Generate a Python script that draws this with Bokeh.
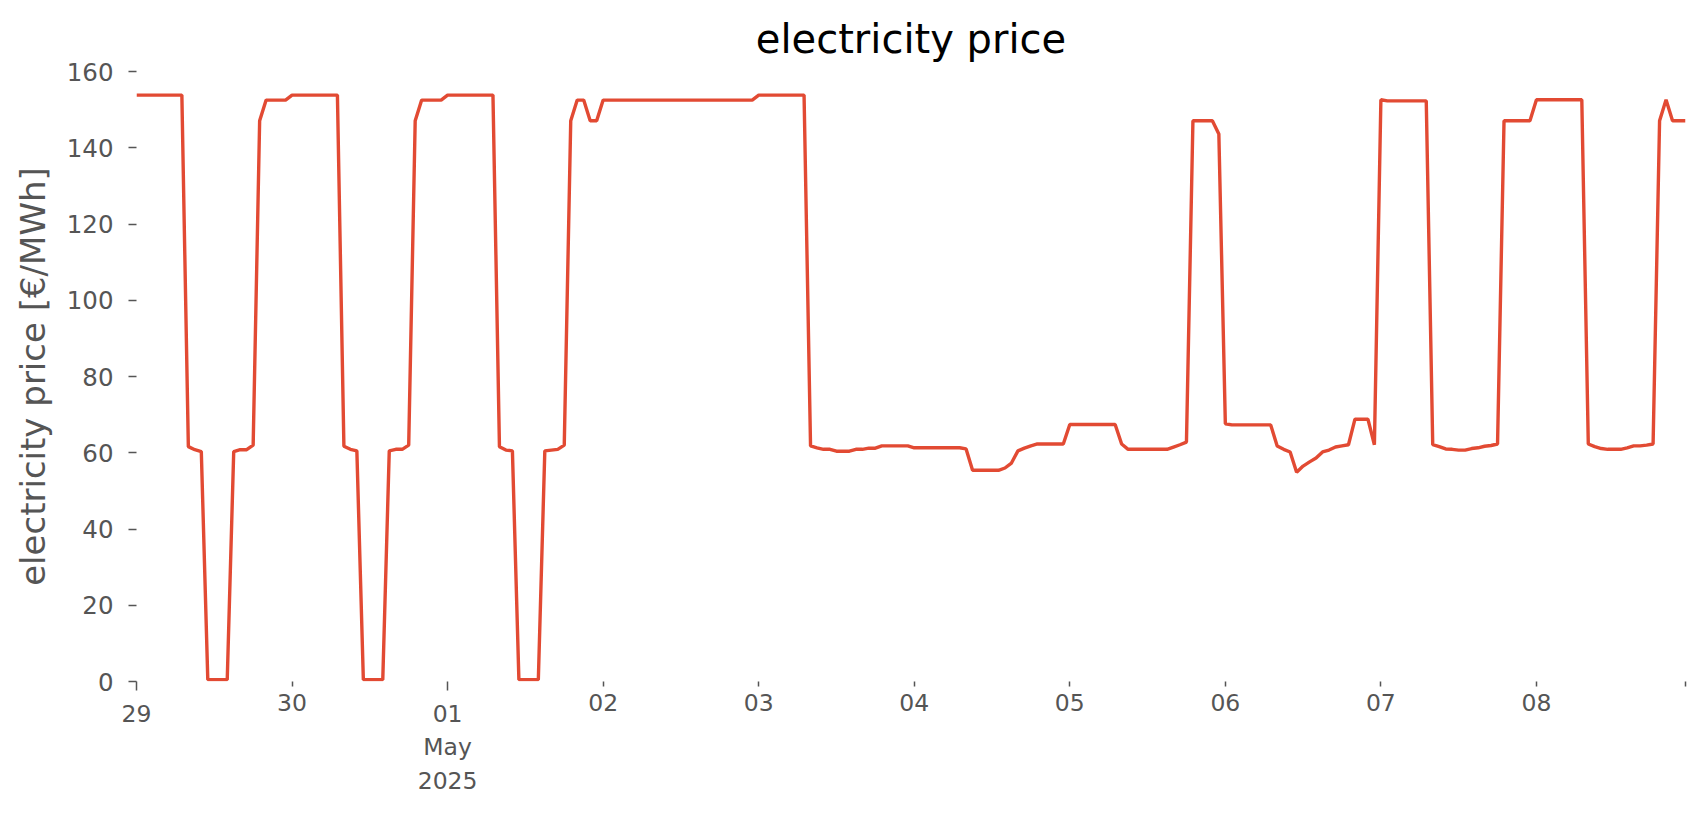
import pandas as pd
from bokeh.plotting import figure
from bokeh.models import Range1d, LinearAxis, FixedTicker
from bokeh.embed import file_html
from bokeh.resources import INLINE

# hourly electricity price [EUR/MWh], one list per day (00:00 ... 23:00)
apr29 = [153.8, 153.8, 153.8, 153.8, 153.8, 153.8, 153.8, 153.8,
         61.6, 60.8, 60.3, 0.5, 0.5, 0.5, 0.5, 60.3,
         60.8, 60.8, 62.0, 147.1, 152.5, 152.5, 152.5, 152.5]
apr30 = [153.8, 153.8, 153.8, 153.8, 153.8, 153.8, 153.8, 153.8,
         61.7, 60.9, 60.5, 0.5, 0.5, 0.5, 0.5, 60.5,
         60.9, 60.9, 62.0, 147.1, 152.5, 152.5, 152.5, 152.5]
may01 = [153.8, 153.8, 153.8, 153.8, 153.8, 153.8, 153.8, 153.8,
         61.6, 60.7, 60.5, 0.5, 0.5, 0.5, 0.5, 60.5,
         60.7, 60.9, 62.0, 147.1, 152.5, 152.5, 147.1, 147.1]
may02 = [152.5, 152.5, 152.5, 152.5, 152.5, 152.5, 152.5, 152.5,
         152.5, 152.5, 152.5, 152.5, 152.5, 152.5, 152.5, 152.5,
         152.5, 152.5, 152.5, 152.5, 152.5, 152.5, 152.5, 152.5]
may03 = [153.8, 153.8, 153.8, 153.8, 153.8, 153.8, 153.8, 153.8,
         61.8, 61.3, 60.9, 60.9, 60.4, 60.4, 60.4, 60.9,
         60.9, 61.2, 61.2, 61.8, 61.8, 61.8, 61.8, 61.8]
may04 = [61.3, 61.3, 61.3, 61.3, 61.3, 61.3, 61.3, 61.3,
         61.0, 55.4, 55.4, 55.4, 55.4, 55.4, 56.0, 57.3,
         60.5, 61.2, 61.8, 62.3, 62.3, 62.3, 62.3, 62.3]
may05 = [67.4, 67.4, 67.4, 67.4, 67.4, 67.4, 67.4, 67.4,
         62.3, 60.9, 60.9, 60.9, 60.9, 60.9, 60.9, 60.9,
         61.5, 62.1, 62.8, 147.1, 147.1, 147.1, 147.1, 143.6]
may06 = [67.6, 67.3, 67.3, 67.3, 67.3, 67.3, 67.3, 67.3,
         61.8, 60.9, 60.2, 54.9, 56.5, 57.6, 58.6, 60.2,
         60.7, 61.5, 61.8, 62.1, 68.8, 68.8, 68.8, 62.1]
may07 = [152.6, 152.3, 152.3, 152.3, 152.3, 152.3, 152.3, 152.3,
         62.1, 61.6, 61.0, 60.9, 60.7, 60.7, 61.1, 61.3,
         61.7, 61.9, 62.3, 147.1, 147.1, 147.1, 147.1, 147.1]
may08 = [152.6, 152.6, 152.6, 152.6, 152.6, 152.6, 152.6, 152.6,
         62.3, 61.6, 61.1, 60.9, 60.9, 60.9, 61.3, 61.8,
         61.8, 62.0, 62.3, 147.1, 152.6, 147.1, 147.1, 147.1]

days = ["2025-04-29", "2025-04-30", "2025-05-01", "2025-05-02", "2025-05-03",
        "2025-05-04", "2025-05-05", "2025-05-06", "2025-05-07", "2025-05-08"]
day_labels = ["29", "30", "01\nMay\n2025", "02", "03", "04", "05", "06", "07", "08"]
major_days = ["2025-04-29", "2025-05-01"]
y_ticks = [0, 20, 40, 60, 80, 100, 120, 140, 160]

prices = apr29 + apr30 + may01 + may02 + may03 + may04 + may05 + may06 + may07 + may08
times = pd.date_range(start=days[0], periods=len(prices), freq="h")


def ms(t):
    return int(pd.Timestamp(t).value // 10**6)


FONT = "DejaVu Sans"
GREY = "#555555"
RED = "#E24A33"

p = figure(width=1690, height=797, output_backend="svg", toolbar_location=None,
           x_axis_type=None,
           x_range=Range1d(times[0], times[-1]), y_range=Range1d(0, 160),
           min_border_left=136, min_border_right=5, min_border_top=71,
           min_border_bottom=116)

p.line(times, prices, line_color=RED, line_width=3.4)

p.outline_line_color = None
p.ygrid.grid_line_color = None
p.background_fill_color = "white"
p.border_fill_color = "white"

# title
p.title.text = "electricity price"
p.title.align = "center"
p.title.text_font = FONT
p.title.text_font_size = "40px"
p.title.text_font_style = "normal"
p.title.text_color = "#000000"
p.title.standoff = 19

# y axis
ya = p.yaxis[0]
ya.ticker = FixedTicker(ticks=y_ticks)
ya.axis_line_color = None
ya.major_tick_line_color = GREY
ya.major_tick_line_width = 1.5
ya.major_tick_in = 0
ya.major_tick_out = 8
ya.minor_tick_line_color = None
ya.major_label_text_color = GREY
ya.major_label_text_font = FONT
ya.major_label_text_font_size = "24.5px"
ya.major_label_standoff = 15
ya.axis_label = "electricity price [€/MWh]"
ya.axis_label_text_font = FONT
ya.axis_label_text_font_size = "34px"
ya.axis_label_text_font_style = "normal"
ya.axis_label_text_color = GREY
ya.axis_label_standoff = 11

# x axis: minor-day labels close to the frame
end_ms = ms(times[-1])
minor = [(d, lab) for d, lab in zip(days, day_labels) if d not in major_days]
overrides_a = {ms(d): lab for d, lab in minor}
overrides_a[end_ms] = ""
ticker_a = FixedTicker(ticks=[ms(d) for d, _ in minor] + [end_ms],
                       minor_ticks=[ms(d) for d in major_days])
axis_a = LinearAxis(ticker=ticker_a, major_label_overrides=overrides_a,
                    axis_line_color=None,
                    major_tick_in=0, major_tick_out=5,
                    minor_tick_in=0, minor_tick_out=9,
                    major_tick_line_color=GREY, minor_tick_line_color=GREY,
                    major_tick_line_width=1.5, minor_tick_line_width=1.5,
                    major_label_text_color=GREY, major_label_text_font=FONT,
                    major_label_text_font_size="23.5px", major_label_standoff=3)
p.add_layout(axis_a, "below")

# x axis: major-day labels (first day / month start) a bit lower
major = [(d, lab) for d, lab in zip(days, day_labels) if d in major_days]
ticker_b = FixedTicker(ticks=[ms(d) for d, _ in major])
axis_b = LinearAxis(ticker=ticker_b,
                    major_label_overrides={ms(d): lab for d, lab in major},
                    axis_line_color=None, major_tick_line_color=None,
                    minor_tick_line_color=None,
                    major_tick_in=0, major_tick_out=0,
                    major_label_text_color=GREY, major_label_text_font=FONT,
                    major_label_text_font_size="23.5px", major_label_standoff=-14)
p.add_layout(axis_b, "below")

open("out.html", "w").write(file_html(p, INLINE))
